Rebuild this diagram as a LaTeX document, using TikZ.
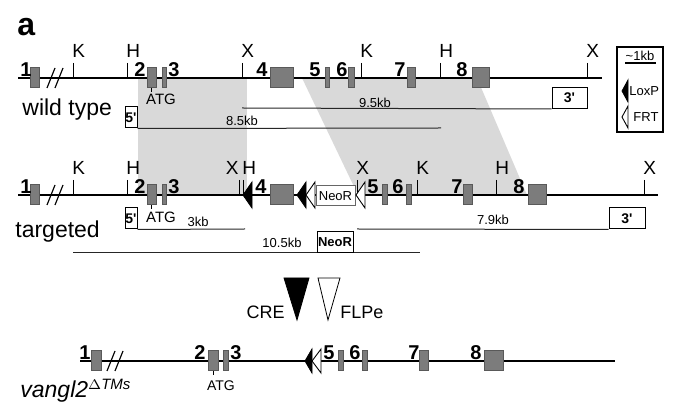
\documentclass[tikz,border=0pt]{standalone}
\usepackage{fontspec}
\setmainfont{Liberation Sans}
\usetikzlibrary{backgrounds}
\definecolor{exongray}{HTML}{7C7C7C}
\definecolor{homology}{HTML}{D9D9D9}

\begin{document}
\begin{tikzpicture}[
  x=0.5pt, y=-0.5pt,
  exon/.style={draw=black!65, fill=exongray, line width=0.5pt},
  gene/.style={line width=1.3pt},
  tick/.style={line width=0.5pt},
  probe/.style={line width=0.5pt, draw=black!85},
  num/.style={font=\fontsize{10}{10}\selectfont\bfseries, inner sep=0pt, anchor=base},
  site/.style={font=\fontsize{9.5}{10}\selectfont, inner sep=0pt, anchor=base west},
  kb/.style={font=\fontsize{6.5}{7}\selectfont, inner sep=0pt},
  probebox/.style={draw, line width=0.5pt, fill=white, inner sep=0pt, minimum height=10.5pt, font=\fontsize{7}{7}\selectfont\bfseries},
  rowlabel/.style={font=\fontsize{11.5}{12}\selectfont, inner sep=0pt, anchor=base west},
  loxp/.style={fill=black},
  frt/.style={draw, fill=white, line width=0.45pt},
  slash/.style={line width=0.6pt}
]
\useasboundingbox (0,0) rectangle (675,416);

% homology arms
\begin{scope}[on background layer]
  \fill[homology] (138,78) rectangle (247,195);
  \fill[homology] (302,78) -- (477,78) -- (527,195) -- (358,195) -- cycle;
\end{scope}

\node[font=\fontsize{16}{17}\selectfont\bfseries, inner sep=0pt, anchor=base west] (panel) at (17,36) {a};

% wild type
\draw[gene] (18,78) -- (602,78);
\draw[slash] (47,88) -- (55,68) (55,88) -- (63,68);
\foreach \x/\l in {73/K, 127/H, 242/X, 361/K, 440/H, 587/X} {
  \draw[tick] (\x,63) -- (\x,78);
  \node[site] (wt\l\x) at (\x-1,58) {\l};
}
\draw[tick] (151,88) -- (151,92);
\foreach \a/\b in {30/39, 147/156, 162/166, 270/293, 325/329, 348/354, 407/415, 472/489}
  \draw[exon] (\a,68) rectangle (\b,88);
\foreach \t/\x in {1/26, 2/140, 3/174, 4/262, 5/315, 6/342, 7/400, 8/462}
  \node[num] (wtex\t) at (\x,76.5) {\t};
\node[kb, font=\fontsize{7.5}{8}\selectfont] (wtatg) at (161,99) {ATG};
\node[rowlabel] (wtlabel) at (22,116) {wild type};

\node[probebox, minimum width=6pt] (wt5) at (131,117.5) {5\textquotesingle};
\node[probebox, minimum width=17.5pt] (wt3) at (569.5,98) {3\textquotesingle};
\coordinate (wtx) at (242,108);
\coordinate (wtend) at (441,128);
\draw[probe] (wtx) -- (wt3.south west);
\draw[probe] (wt5.south east) -- (wtend);
\node[kb] (wt95) at (375,103) {9.5kb};
\node[kb] (wt85) at (242,121) {8.5kb};

% legend
\node[draw, line width=0.6pt, minimum width=23pt, minimum height=42.5pt, inner sep=0pt] (legend) at (640,89.5) {};
\node[kb] (scale) at (640,56) {\textasciitilde1kb};
\draw[line width=0.8pt] (625,63) -- (656,63);
\draw[loxp] (622,91) -- (628,80) -- (628,102) -- cycle;
\node[kb, anchor=west] (lloxp) at (629,91) {LoxP};
\draw[frt] (622,117) -- (628,106) -- (628,128) -- cycle;
\node[kb, anchor=west] (lfrt) at (633,117) {FRT};

% targeted
\draw[gene] (18,195) -- (658,195);
\draw[slash] (47,205) -- (55,185) (55,205) -- (63,185);
\foreach \x/\l in {73/K, 127/H, 243/H, 357/X, 417/K, 496/H, 644/X} {
  \draw[tick] (\x,180) -- (\x,195);
  \node[site] (tg\l\x) at (\x-1,175) {\l};
}
\draw[tick] (239,180) -- (239,195);
\node[site, anchor=base east] (tgX239) at (239,175) {X};
\draw[tick] (151,205) -- (151,209);
\foreach \a/\b in {30/39, 147/156, 162/166, 270/293, 382/387, 406/411, 463/472, 528/546}
  \draw[exon] (\a,185) rectangle (\b,205);
\foreach \t/\x in {1/26, 2/140, 3/174, 4/261, 5/373, 6/398, 7/457, 8/519}
  \node[num] (tgex\t) at (\x,193.5) {\t};
\draw[loxp] (243,195) -- (252,182) -- (252,208) -- cycle;
\draw[loxp] (297,195) -- (306,182) -- (306,208) -- cycle;
\draw[frt] (306,195) -- (315,182) -- (315,208) -- cycle;
\node[draw=black!60, fill=white, line width=0.5pt, minimum width=19.5pt, minimum height=10pt, inner sep=0pt, font=\fontsize{6.5}{7}\selectfont] (tgneo) at (335.5,196) {NeoR};
\draw[frt] (356,195) -- (365,182) -- (365,208) -- cycle;
\node[kb, font=\fontsize{7.5}{8}\selectfont] (tgatg) at (161,217) {ATG};
\node[rowlabel] (tglabel) at (15,238) {targeted};

\node[probebox, minimum width=6pt] (tg5) at (131,218.5) {5\textquotesingle};
\node[probebox, minimum width=18pt] (tg3) at (627,218.5) {3\textquotesingle};
\coordinate (tgx) at (245,229);
\coordinate (tgstart) at (357,229);
\draw[probe] (tg5.south east) -- (tgx);
\draw[probe] (tgstart) -- (tg3.south west);
\coordinate (neoleft) at (73,253);
\coordinate (neoright) at (420,253);
\draw[probe] (neoleft) -- (neoright);
\node[probebox, minimum width=18pt, font=\fontsize{6.5}{7}\selectfont\bfseries] (neoprobe) at (335,242.5) {NeoR};
\node[kb] (tg3kb) at (198,222) {3kb};
\node[kb] (tg79) at (493,220) {7.9kb};
\node[kb] (tg105) at (282,243) {10.5kb};

% recombinases
\draw[fill=black, line width=0.4pt] (284,278) -- (309,278) -- (297,320) -- cycle;
\draw[line width=0.4pt] (318,278) -- (340,278) -- (328,320) -- cycle;
\node[font=\fontsize{9}{9}\selectfont, inner sep=0pt, anchor=east] (cre) at (285,312) {CRE};
\node[font=\fontsize{9}{9}\selectfont, inner sep=0pt, anchor=west] (flpe) at (340,312) {FLPe};

% deleted allele
\draw[line width=1.1pt] (80,361) -- (615,361);
\draw[slash] (107,371) -- (115,351) (115,371) -- (123,351);
\draw[tick] (213,371) -- (213,375);
\foreach \a/\b in {91/101, 208/218, 223/228, 338/343, 362/367, 419/428, 484/503}
  \draw[exon] (\a,351) rectangle (\b,371);
\foreach \t/\x in {1/85, 2/200, 3/236, 5/329, 6/355, 7/414, 8/476}
  \node[num] (dlex\t) at (\x,359.5) {\t};
\draw[loxp] (305,361) -- (312,349) -- (312,373) -- cycle;
\draw[frt] (312,361) -- (321,349) -- (321,373) -- cycle;
\node[kb, font=\fontsize{7}{7}\selectfont] (dlatg) at (221,386) {ATG};
\node[rowlabel, font=\fontsize{11.5}{12}\selectfont\itshape] (dllabel) at (20,398) {vangl2\textsuperscript{\fontsize{7.5}{8}\selectfont$\Delta$TMs}};
\end{tikzpicture}
\end{document}
